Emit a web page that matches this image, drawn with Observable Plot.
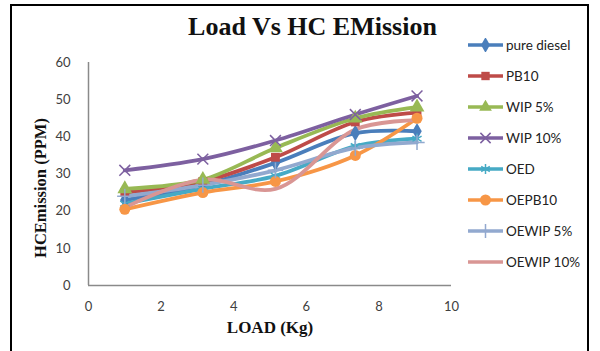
<!DOCTYPE html>
<html>
<head>
<meta charset="utf-8">
<script src="https://cdn.jsdelivr.net/npm/d3@7"></script>
<script src="https://cdn.jsdelivr.net/npm/@observablehq/plot@0.6"></script>
<style>
  html, body { margin: 0; padding: 0; background: #fff; }
  #wrap { position: relative; width: 600px; height: 351px; overflow: hidden; background: #fff; }
  #frame { position: absolute; left: 10px; top: 4px; width: 579px; height: 360px; border: 2px solid #000; box-sizing: border-box; }
  #title { position: absolute; left: 120px; width: 385px; top: 12px; text-align: center; font-family: "Liberation Serif", serif; font-weight: bold; font-size: 26px; color: #111; }
  #ylab { position: absolute; left: 41px; top: 188px; width: 0; height: 0; }
  #ylab span { position: absolute; left: 0; top: 0; transform: translate(-50%, -50%) rotate(-90deg); white-space: nowrap; font-family: "Liberation Serif", serif; font-weight: bold; font-size: 16.5px; line-height: 18px; color: #111; }
  #xlab { position: absolute; left: 270px; top: 328px; transform: translate(-50%, -50%); white-space: nowrap; font-family: "Liberation Serif", serif; font-weight: bold; font-size: 17px; color: #111; }
  #legend { position: absolute; left: 467px; top: 29px; font-family: Lato, sans-serif; font-size: 13.5px; color: #222; }
  .li { display: flex; align-items: center; height: 31px; }
  .li svg { margin-right: 2px; }
  svg.plot { position: absolute; left: 0; top: 0; }
</style>
</head>
<body>
<div id="wrap">
  <div id="frame"></div>
  <div id="title">Load Vs HC EMission</div>
  <div id="ylab"><span>HCEmission (PPM)</span></div>
  <div id="xlab">LOAD (Kg)</div>
  <div id="legend"></div>
</div>
<script>
// ---- data ----
const load = [1, 3.15, 5.15, 7.35, 9.05];
const seriesNames = ["pure diesel", "PB10", "WIP 5%", "WIP 10%", "OED", "OEPB10", "OEWIP 5%", "OEWIP 10%"];
const pureDiesel = [23, 27, 33, 41, 41.5];
const pb10       = [25, 28, 34.5, 44, 46.5];
const wip5       = [26, 28.5, 37, 45, 48];
const wip10      = [31, 34, 39, 46, 51];
const oed        = [22, 26, 29.5, 37.5, 39.5];
const oepb10     = [20.5, 25, 28, 35, 45];
const oewip5     = [24, 27, 31, 37, 38.5];
const oewip10    = [21, 28.5, 26, 42, 44.5];
const xTicks = [0, 2, 4, 6, 8, 10];
const yTicks = [0, 10, 20, 30, 40, 50, 60];

// ---- styles ----
const seriesValues = [pureDiesel, pb10, wip5, wip10, oed, oepb10, oewip5, oewip10];
const seriesColors = ["#4a7ebb", "#be4b48", "#98b954", "#7d60a0", "#46aac5", "#f79646", "#92a9cf", "#d99694"];
const seriesSymbols = ["diamond", "square", "triangle", "times", "asterisk", "circle", "plus", null];
const strokeSymbols = new Set(["times", "asterisk", "plus"]);

const data = [];
seriesNames.forEach((s, i) => seriesValues[i].forEach((v, j) => data.push({series: s, load: load[j], value: v})));

const dotMarks = seriesNames.map((s, i) => {
  const sym = seriesSymbols[i];
  if (!sym) return null;
  const isStroke = strokeSymbols.has(sym);
  const r = sym === "circle" ? 5.5 : sym === "square" ? 5 : sym === "triangle" ? 5.5 : 5;
  return Plot.dot(data.filter(d => d.series === s), {
    x: "load", y: "value", symbol: () => sym, r,
    fill: isStroke ? "none" : seriesColors[i],
    stroke: seriesColors[i], strokeWidth: isStroke ? 1.5 : 0
  });
}).filter(Boolean);

const chart = Plot.plot({
  width: 600, height: 351,
  marginLeft: 88, marginRight: 149, marginTop: 62, marginBottom: 66,
  style: {background: "transparent", fontFamily: "Lato, sans-serif", fontSize: "13px", color: "#404040"},
  x: {domain: [0, 10]},
  y: {domain: [0, 60]},
  color: {domain: seriesNames, range: seriesColors},
  symbol: {domain: ["diamond","square","triangle","times","asterisk","circle","plus"], range: ["diamond","square","triangle","times","asterisk","circle","plus"]},
  marks: [
    Plot.axisX({ticks: xTicks, tickSize: 0, tickPadding: 16, label: null, tickFormat: d => d}),
    Plot.axisY({ticks: yTicks, tickSize: 0, tickPadding: 18, label: null}),
    Plot.ruleX([0], {stroke: "#8a8a8a", strokeWidth: 1.5, strokeOpacity: 1}),
    Plot.ruleY([0], {stroke: "#8a8a8a", strokeWidth: 1.5, strokeOpacity: 1}),
    Plot.line(data, {x: "load", y: "value", z: "series", stroke: "series", curve: "catmull-rom", strokeWidth: 3.8}),
    ...dotMarks
  ]
});
chart.classList.add("plot");
document.getElementById("wrap").insertBefore(chart, document.getElementById("frame"));

// ---- legend ----
const legend = document.getElementById("legend");
seriesNames.forEach((s, i) => {
  const row = document.createElement("div");
  row.className = "li";
  const svg = d3.create("svg").attr("width", 37).attr("height", 14);
  svg.append("line").attr("x1", 1).attr("x2", 36).attr("y1", 7).attr("y2", 7)
    .attr("stroke", seriesColors[i]).attr("stroke-width", 3.5);
  const sym = seriesSymbols[i];
  if (sym) {
    const map = {diamond: d3.symbolDiamond, square: d3.symbolSquare, triangle: d3.symbolTriangle, times: d3.symbolTimes, asterisk: d3.symbolAsterisk, circle: d3.symbolCircle, plus: d3.symbolPlus};
    const isStroke = strokeSymbols.has(sym);
    const size = sym === "circle" ? 95 : 70;
    svg.append("path").attr("d", d3.symbol(map[sym], size)()).attr("transform", "translate(18.5,7)")
      .attr("fill", isStroke ? "none" : seriesColors[i])
      .attr("stroke", seriesColors[i]).attr("stroke-width", isStroke ? 1.5 : 0);
  }
  row.appendChild(svg.node());
  const t = document.createElement("span");
  t.textContent = s;
  row.appendChild(t);
  legend.appendChild(row);
});
</script>
</body>
</html>
